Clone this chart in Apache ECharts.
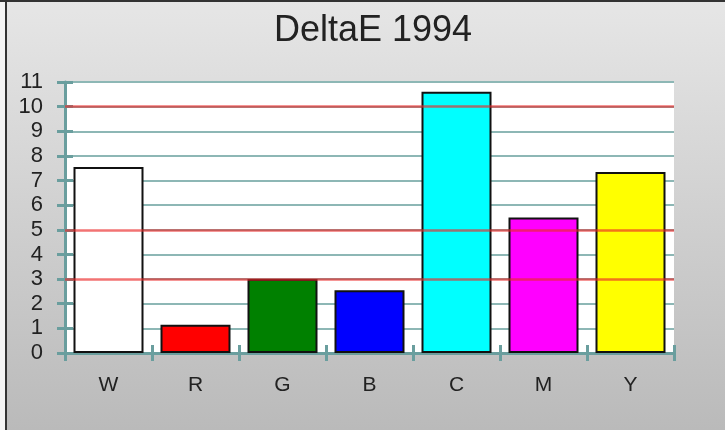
<!DOCTYPE html>
<html>
<head>
<meta charset="utf-8">
<script src="https://cdn.jsdelivr.net/npm/echarts@6/dist/echarts.min.js"></script>
<style>
  html, body { margin: 0; padding: 0; background: #f2f2f2; }
  #chart { width: 725px; height: 430px; }
</style>
</head>
<body>
<div id="chart"></div>
<script>
// Data
const categories = ['W', 'R', 'G', 'B', 'C', 'M', 'Y'];
const deltaE = [7.55, 1.15, 3.0, 2.55, 10.6, 5.5, 7.35];
const barColors = ['#ffffff', '#ff0000', '#008000', '#0000ff', '#00ffff', '#ff00ff', '#ffff00'];
const thresholds = [3, 5, 10];

const chart = echarts.init(document.getElementById('chart'));

const teal = '#6a9e9e';
const gridTeal = '#8db7b5';
const font = 'Liberation Sans, Arial, sans-serif';

const option = {
    animation: false,
    backgroundColor: 'transparent',
    graphic: [
        // gray gradient panel with dark frame on top and left
        {
            type: 'rect', z: -10,
            shape: { x: 0, y: 0, width: 725, height: 430 },
            style: { fill: '#f4f4f4' }
        },
        {
            type: 'rect', z: -9,
            shape: { x: 6, y: 1, width: 719, height: 429 },
            style: {
                fill: new echarts.graphic.LinearGradient(0, 0, 0, 1, [
                    { offset: 0, color: '#e6e6e6' },
                    { offset: 1, color: '#bababa' }
                ])
            }
        },
        { type: 'rect', z: -8, shape: { x: 0, y: 0, width: 725, height: 2 }, style: { fill: '#333' } },
        { type: 'rect', z: -8, shape: { x: 5, y: 0, width: 2, height: 430 }, style: { fill: '#333' } }
    ],
    title: {
        text: 'DeltaE 1994',
        left: 368,
        textAlign: 'center',
        top: 8,
        textStyle: {
            fontFamily: font,
            fontSize: 36,
            fontWeight: 'normal',
            color: '#222'
        }
    },
    grid: {
        left: 65, right: 51, top: 82, bottom: 77,
        show: true, backgroundColor: '#ffffff', borderWidth: 0
    },
    xAxis: [
        {
            type: 'category',
            data: categories,
            axisLine: { lineStyle: { color: teal, width: 3 } },
            axisTick: { show: true, length: 8, lineStyle: { color: teal, width: 3 } },
            axisLabel: {
                margin: 22,
                fontFamily: font,
                fontSize: 21,
                color: '#222'
            }
        },
        {
            type: 'category',
            data: categories,
            position: 'bottom',
            axisLine: { show: false },
            axisTick: { show: true, inside: true, length: 8, lineStyle: { color: teal, width: 3 } },
            axisLabel: { show: false }
        }
    ],
    yAxis: [
        {
            type: 'value',
            min: 0, max: 11, interval: 1,
            axisLine: { show: true, lineStyle: { color: teal, width: 3 } },
            axisTick: { show: true, length: 8, lineStyle: { color: teal, width: 3 } },
            splitLine: { show: true, lineStyle: { color: gridTeal, width: 2 } },
            axisLabel: {
                margin: 22,
                fontFamily: font,
                fontSize: 22,
                color: '#222'
            }
        },
        {
            type: 'value',
            min: 0, max: 11, interval: 1,
            position: 'left',
            axisLine: { show: false },
            axisTick: { show: true, inside: true, length: 8, lineStyle: { color: teal, width: 3 } },
            splitLine: { show: false },
            axisLabel: { show: false }
        }
    ],
    series: [
        {
            type: 'bar',
            data: deltaE.map((v, i) => ({ value: v, itemStyle: { color: barColors[i] } })),
            barWidth: 70,
            itemStyle: { borderColor: '#111', borderWidth: 2 },
            markLine: {
                silent: true,
                symbol: 'none',
                label: { show: false },
                lineStyle: { color: 'rgba(235,40,40,0.65)', width: 2.5, type: 'solid' },
                data: thresholds.map(t => ({ yAxis: t }))
            }
        }
    ]
};

chart.setOption(option);
</script>
</body>
</html>
